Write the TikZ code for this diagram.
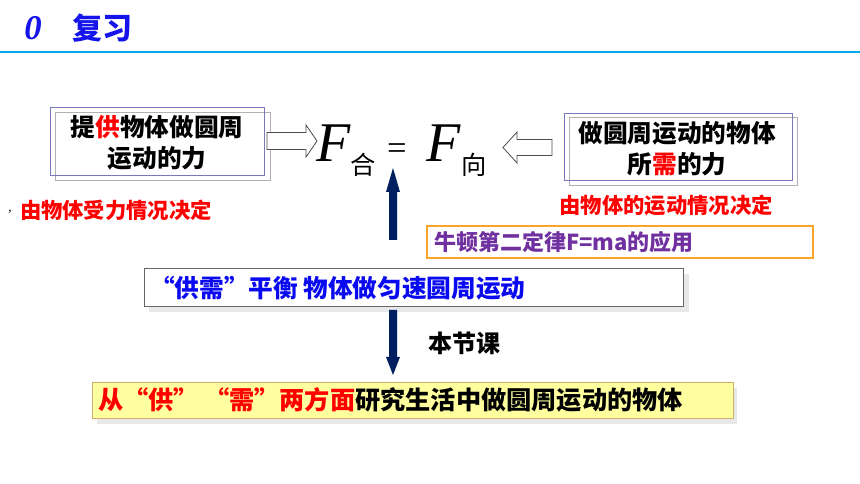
\documentclass[tikz,border=0pt]{standalone}
\usepackage{fontspec}
\setmainfont{Liberation Serif}
\newfontfamily\cjk{Noto Sans CJK SC}
\newfontfamily\tnr{Liberation Serif}
\definecolor{titleblue}{RGB}{20,20,235}
\definecolor{rulecol}{RGB}{0,170,235}
\definecolor{boxpurple}{RGB}{120,120,190}
\definecolor{navy}{RGB}{0,32,96}
\definecolor{txtpurple}{RGB}{112,48,160}
\definecolor{orangeb}{RGB}{250,165,40}
\definecolor{yellowf}{RGB}{255,255,160}
\definecolor{yellowb}{RGB}{205,175,110}
\definecolor{redt}{RGB}{255,0,0}
\definecolor{bluet}{RGB}{10,10,240}
\definecolor{ghost}{RGB}{222,222,222}
\definecolor{shadowf}{RGB}{232,232,232}
\tikzset{
  txt/.style={inner sep=0pt, outer sep=0pt},
  cjkbig/.style={txt, font=\cjk\bfseries\fontsize{18.5}{23.5}\selectfont, align=center},
  cjkred/.style={txt, font=\cjk\bfseries\fontsize{16}{20}\selectfont, text=redt},
  hollow/.style={draw=black!70, line width=0.6pt, fill=white},
  solidarrow/.style={fill=navy, draw=none},
}
\begin{document}
\begin{tikzpicture}[x=0.75pt,y=-0.75pt]
\useasboundingbox (0,0) rectangle (860,484);
\fill[white] (0,0) rectangle (860,484);
% title
\node[txt, font=\tnr\bfseries\itshape\fontsize{26}{30}\selectfont, text=titleblue] (t0) at (33,28) {0};
\node[txt, font=\cjk\bfseries\fontsize{22.5}{26}\selectfont, text=titleblue] (t1) at (102,28) {复习};
\coordinate (r1) at (0,52);
\coordinate (r2) at (860,52);
\draw[rulecol, line width=1.6pt] (r1) -- (r2);
% box 1
\draw[ghost!80!black, line width=0.5pt, fill=white] (55,112) rectangle (270,180);
\draw[boxpurple, line width=0.7pt] (50,107) rectangle (264,175);
\node[cjkbig] (b1) at (157,143) {提{\color{redt}供}物体做圆周\\运动的力};
% box 2
\draw[ghost!80!black, line width=0.5pt, fill=white] (569,117) rectangle (797,185);
\draw[boxpurple, line width=0.7pt] (564,113) rectangle (792,180);
\node[cjkbig] (b2) at (677,149) {做圆周运动的物体\\所{\color{redt}需}的力};
% hollow arrows
\draw[hollow] (267,132.5) -- (306,132.5) -- (306,125) -- (317,141) -- (306,157) -- (306,149.5) -- (267,149.5) -- cycle;
\draw[hollow] (552,139.5) -- (517,139.5) -- (517,132) -- (503,147.5) -- (517,163) -- (517,155.5) -- (552,155.5) -- cycle;
% formula
\node[txt, anchor=base west, font=\tnr\itshape\fontsize{42}{46}\selectfont] (F1) at (316,162) {F};
\node[txt, font=\cjk\fontsize{19}{22}\selectfont] (he) at (363,165) {合};
\node[txt, font=\tnr\fontsize{26}{30}\selectfont] (eq) at (397,152) {=};
\node[txt, anchor=base west, font=\tnr\itshape\fontsize{42}{46}\selectfont] (F2) at (426,162) {F};
\node[txt, font=\cjk\fontsize{19}{22}\selectfont] (xiang) at (474,165) {向};
% red notes
\node[txt, font=\tnr\fontsize{10}{12}\selectfont] (comma) at (10,212) {,};
\node[cjkred] (n1) at (116,210) {由物体受力情况决定};
\node[cjkred] (n2) at (666,205) {由物体的运动情况决定};
% up arrow
\fill[solidarrow] (389,240) -- (389,192) -- (386,192) -- (393,168) -- (400,192) -- (397,192) -- (397,240) -- cycle;
% orange box
\draw[orangeb, line width=1.1pt, fill=white] (427,226) rectangle (813,258);
\node[txt, anchor=west, font=\cjk\bfseries\fontsize{16.5}{20}\selectfont, text=txtpurple] (nt) at (434,242) {牛顿第二定律F=ma的应用};
% box 3
\fill[shadowf] (149,274) rectangle (689,312);
\draw[black!60, line width=0.7pt, fill=white] (144,268) rectangle (683,306);
\node[txt, anchor=west, font=\cjk\bfseries\fontsize{18.5}{22}\selectfont, text=bluet] (b3) at (150,288) {“供需”平衡 物体做匀速圆周运动};
% down arrow
\fill[solidarrow] (389,310) -- (389,357) -- (386,357) -- (393,375) -- (400,357) -- (397,357) -- (397,310) -- cycle;
\node[txt, font=\cjk\bfseries\fontsize{18}{22}\selectfont] (bjk) at (464,343) {本节课};
% yellow box
\fill[shadowf] (97,388) rectangle (737,424);
\draw[yellowb, line width=0.7pt, fill=yellowf] (92,382) rectangle (733,418);
\node[txt, anchor=west, font=\cjk\bfseries\fontsize{18.9}{22}\selectfont] (b4) at (98,400) {{\color{redt}从“供”\hspace{4pt}“需”两方面}研究生活中做圆周运动的物体};
\end{tikzpicture}
\end{document}
